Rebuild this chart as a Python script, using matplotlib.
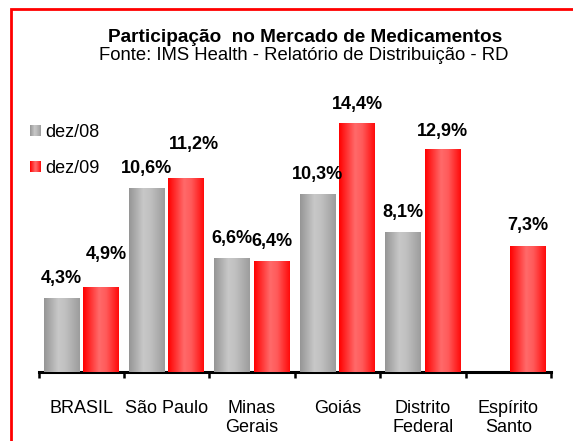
import numpy as np
import matplotlib
matplotlib.use("Agg")
import matplotlib.pyplot as plt
from matplotlib.colors import LinearSegmentedColormap
from matplotlib.patches import Rectangle, Patch
from matplotlib.legend_handler import HandlerBase

categories = ["BRASIL", "São Paulo", "Minas\nGerais", "Goiás", "Distrito\nFederal", "Espírito\nSanto"]
series_names = ["dez/08", "dez/09"]
dez08 = [4.3, 10.6, 6.6, 10.3, 8.1, np.nan]
dez09 = [4.9, 11.2, 6.4, 14.4, 12.9, 7.3]
labels08 = ["4,3%", "10,6%", "6,6%", "10,3%", "8,1%", ""]
labels09 = ["4,9%", "11,2%", "6,4%", "14,4%", "12,9%", "7,3%"]

plt.rcParams['font.family'] = ['Liberation Sans', 'DejaVu Sans']

W, H = 573, 441
fig = plt.figure(figsize=(W / 100, H / 100), dpi=100)
ax = fig.add_axes([38.5 / W, 1 - 372 / H, 512.5 / W, 277 / H])

gray_cmap = LinearSegmentedColormap.from_list(
    "g", [(0, "#959595"), (0.4, "#c8c8c8"), (0.6, "#c0c0c0"), (1, "#9c9c9c")])
red_cmap = LinearSegmentedColormap.from_list(
    "r", [(0, "#ff0000"), (0.45, "#ff6a6a"), (0.65, "#ff5a5a"), (1, "#ff0a0a")])
grad = np.linspace(0, 1, 256).reshape(1, -1)

x = np.arange(len(categories))
w = 0.42
off = 0.23
b08 = ax.bar(x - off, dez08, width=w, color="#b0b0b0", edgecolor="none", zorder=2)
b09 = ax.bar(x + off, dez09, width=w, color="#ff4040", edgecolor="none", zorder=2)

for bars, cmap in ((b08, gray_cmap), (b09, red_cmap)):
    for b in bars:
        h = b.get_height()
        if not np.isfinite(h):
            continue
        x0 = b.get_x()
        im = ax.imshow(grad, extent=[x0, x0 + b.get_width(), 0, h], aspect="auto",
                       cmap=cmap, zorder=3, interpolation="bilinear")
        im.set_clip_path(b)

# label offsets (pixels): (dx, dy)
offs08 = [(0, 11)] * 6
offs09 = [(5, 24), (8, 25), (0, 11), (0, 10), (0, 9), (0, 12)]
for bars, labs, offs in ((b08, labels08, offs08), (b09, labels09, offs09)):
    for b, lab, (dx, dy) in zip(bars, labs, offs):
        h = b.get_height()
        if not np.isfinite(h) or not lab:
            continue
        ax.annotate(lab, (b.get_x() + b.get_width() / 2, h), xytext=(dx, dy),
                    textcoords="offset pixels", ha="center", va="bottom",
                    fontsize=13, fontweight="bold", color="black", zorder=5)

ax.set_xlim(-0.5, len(categories) - 0.5)
ax.set_ylim(0, 16)
for s in ("top", "right", "left"):
    ax.spines[s].set_visible(False)
ax.spines["bottom"].set_linewidth(2.2)
ax.spines["bottom"].set_color("black")
ax.set_yticks([])
ax.set_xticks(np.arange(len(categories) + 1) - 0.5)
ax.set_xticklabels([])
ax.tick_params(axis="x", which="major", direction="out", length=4, width=1.8, color="black")
ax.set_xticks(x, minor=True)
ax.set_xticklabels(categories, minor=True, fontsize=13, linespacing=1.15)
ax.tick_params(axis="x", which="minor", length=0, pad=20)
for t in ax.get_xticklabels(minor=True):
    t.set_va("top")
    t.set_ha("center")


class GradHandler(HandlerBase):
    def __init__(self, cmap):
        super().__init__()
        self.cmap = cmap

    def create_artists(self, legend, orig_handle, xdescent, ydescent, width, height, fontsize, trans):
        n = 12
        arts = []
        for i in range(n):
            r = Rectangle((-xdescent + width * i / n, -ydescent), width / n * 1.05, height,
                          facecolor=self.cmap((i + 0.5) / n), edgecolor="none", transform=trans)
            arts.append(r)
        return arts


h08 = Patch(label=series_names[0])
h09 = Patch(label=series_names[1])
fig.legend(handles=[h08, h09], loc="upper left", bbox_to_anchor=(30 / W, 1 - 124 / H),
           bbox_transform=fig.transFigure, frameon=False, fontsize=13,
           handlelength=0.6, handleheight=0.6, handletextpad=0.25, labelspacing=1.05,
           borderpad=0, borderaxespad=0,
           handler_map={h08: GradHandler(gray_cmap), h09: GradHandler(red_cmap)})

fig.text(305 / W, 1 - 37 / H, "Participação  no Mercado de Medicamentos", ha="center", va="center",
         fontsize=13.7, fontweight="bold")
fig.text(304 / W, 1 - 56 / H, "Fonte: IMS Health - Relatório de Distribuição - RD", ha="center",
         va="center", fontsize=13.3)

fig.add_artist(Rectangle((10.5 / W, -0.5), 2, 1.5 - 9 / H, transform=fig.transFigure,
                         fill=False, edgecolor="red", linewidth=2, clip_on=False))

fig.savefig("out.png", dpi=100)
